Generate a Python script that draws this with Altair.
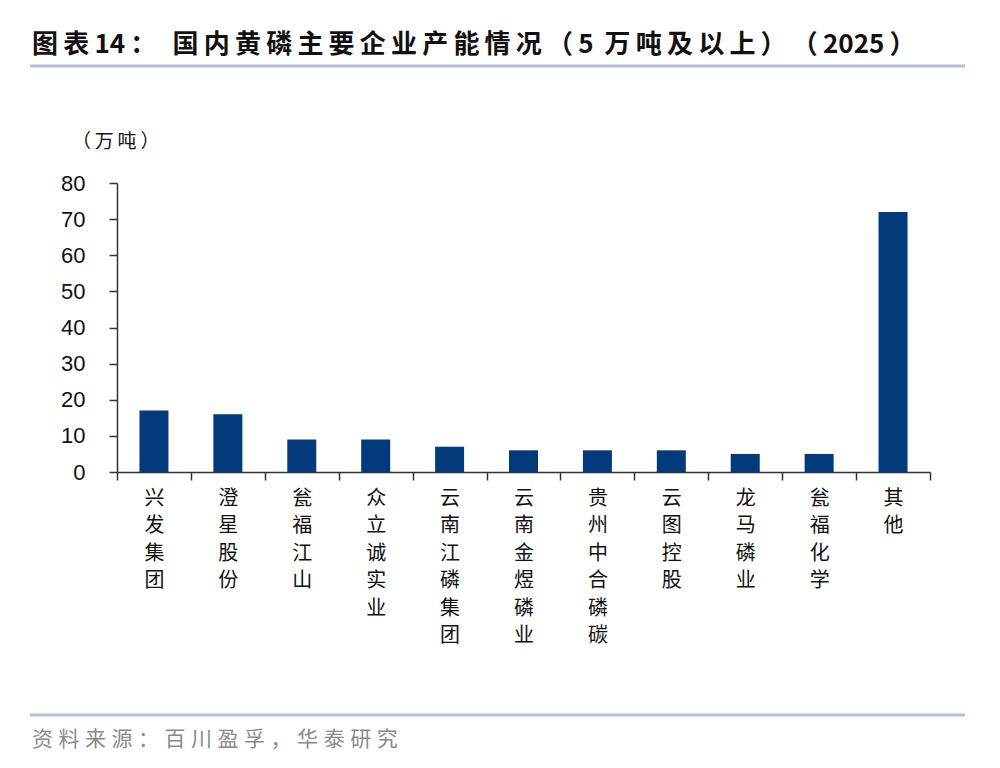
import altair as alt
import pandas as pd

companies = ["兴发集团", "澄星股份", "瓮福江山", "众立诚实业", "云南江磷集团", "云南金煜磷业",
             "贵州中合磷碳", "云图控股", "龙马磷业", "瓮福化学", "其他"]
capacity = [17, 16, 9, 9, 7, 6, 6, 6, 5, 5, 72]
y_ticks = [0, 10, 20, 30, 40, 50, 60, 70, 80]
title_text = "图表14： 国内黄磷主要企业产能情况（5 万吨及以上）（2025）"
unit_text = "（万吨）"
source_text = "资料来源：百川盈孚，华泰研究"

W, H = 813, 289
CJK = "Noto Sans CJK SC"


def spaced(s, sep="\u2009"):
    out = ""
    for i, ch in enumerate(s):
        if i > 0 and not (ch.isascii() and s[i - 1].isascii()):
            out += sep
        out += ch
    return out


df = pd.DataFrame({"company": companies, "capacity": capacity})

bars = alt.Chart(df).mark_bar(size=29, color="#023A7C").encode(
    x=alt.X("company:N", sort=None, title=None,
            scale=alt.Scale(paddingInner=0, paddingOuter=0),
            axis=alt.Axis(tickBand="extent", tickSize=8, tickColor="#333333", tickWidth=1.5,
                          domainColor="#333333", domainWidth=1.5,
                          labelAngle=0, labelAlign="center", labelBaseline="top",
                          labelFont=CJK, labelFontSize=20, labelColor="#111111",
                          labelLineHeight=27.5, labelPadding=8, labelOverlap=False,
                          labelExpr="split(datum.label, '')")),
    y=alt.Y("capacity:Q", title=None,
            scale=alt.Scale(domain=[0, 80], nice=False),
            axis=alt.Axis(values=y_ticks, tickSize=8, tickColor="#333333", tickWidth=1.5,
                          domainColor="#333333", domainWidth=1.5, grid=False,
                          labelFont="Liberation Sans", labelFontSize=22, labelColor="#111111",
                          labelPadding=24)),
)

title = alt.Chart(pd.DataFrame({"t": [spaced(title_text)]})).mark_text(
    font=CJK, fontSize=26, fontWeight="bold", align="left",
    baseline="middle", color="#111111").encode(
    text="t:N", x=alt.value(-85), y=alt.value(-138))

title_line = alt.Chart(pd.DataFrame({"t": [1]})).mark_rule(color="#B3C2D8", strokeWidth=3).encode(
    x=alt.value(-87), x2=alt.value(848), y=alt.value(-117))

unit = alt.Chart(pd.DataFrame({"t": [spaced(unit_text)]})).mark_text(
    font=CJK, fontSize=19, align="left", baseline="middle", color="#111111").encode(
    text="t:N", x=alt.value(-45), y=alt.value(-41))

foot_line = alt.Chart(pd.DataFrame({"t": [1]})).mark_rule(color="#B3C2D8", strokeWidth=3).encode(
    x=alt.value(-87), x2=alt.value(848), y=alt.value(532))

source = alt.Chart(pd.DataFrame({"t": [spaced(source_text, "\u2009\u200a")]})).mark_text(
    font=CJK, fontSize=21, align="left", baseline="middle", color="#8A8A8A").encode(
    text="t:N", x=alt.value(-85), y=alt.value(557))

chart = alt.layer(bars, title, title_line, unit, foot_line, source).properties(
    width=W, height=H,
    background="white",
    autosize=alt.AutoSizeParams(type="none"),
    padding={"left": 109, "top": 175, "right": 62, "bottom": 288},
).configure_view(stroke=None)

chart.save("out.html", embed_options={"renderer": "svg", "actions": False})
